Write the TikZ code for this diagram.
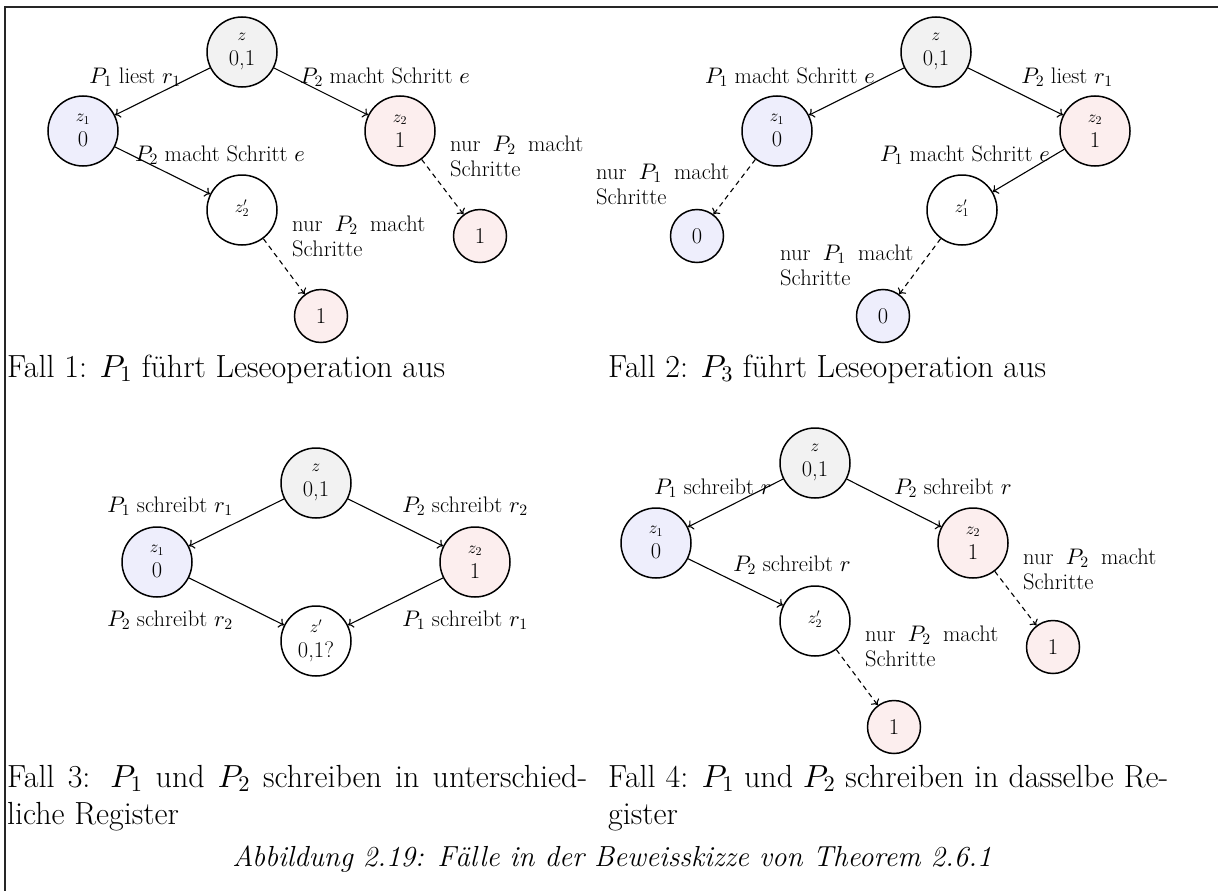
\documentclass[tikz,border=0pt]{standalone}
\usetikzlibrary{arrows.meta}
% scalable Computer Modern math fonts
\DeclareFontShape{OML}{cmm}{m}{it}{<->cmmi10}{}
\DeclareFontShape{OMS}{cmsy}{m}{n}{<->cmsy10}{}
\DeclareFontShape{OT1}{cmr}{m}{n}{<->cmr10}{}
\definecolor{zgray}{RGB}{242,242,242}
\definecolor{zblue}{RGB}{238,238,252}
\definecolor{zred}{RGB}{252,238,238}
\newcommand{\lblfont}{\fontsize{22.5}{25}\selectfont}
\newcommand{\capfont}{\fontsize{32}{38}\selectfont}
\newcommand{\figfont}{\fontsize{29}{36}\selectfont}
\newcommand{\tagfont}{\fontsize{17}{20}\selectfont}
% state name alone, set in the upper half of its circle
\newcommand{\onlytag}[1]{\raisebox{8pt}{\tagfont$#1$}}
\tikzset{
  state/.style={circle, draw, line width=1.5pt, minimum size=70pt, inner sep=0pt, align=center, font=\lblfont},
  leaf/.style={circle, draw, line width=1.5pt, minimum size=53pt, inner sep=0pt, font=\lblfont},
  gz/.style={fill=zgray}, bz/.style={fill=zblue}, rz/.style={fill=zred},
  trans/.style={-{To[length=5pt,width=10pt]}, line width=1.1pt},
  solo/.style={trans, dash pattern=on 5pt off 4pt},
  elabel/.style={font=\lblfont, inner sep=0pt},
  note/.style={font=\lblfont, text width=133pt, align=justify, inner sep=0pt, anchor=base west},
  capline/.style={font=\capfont, inner sep=0pt, anchor=base west},
}
\begin{document}
\begin{tikzpicture}[x=1pt, y=-1pt]
\useasboundingbox (0,0) rectangle (1218,891);
% frame
\draw[line width=1.5pt, black!85] (5,891) -- (5,7) -- (1218,7);

% ---------- Fall 1 ----------
\node[state,gz] (a0) at (242,52) {{\tagfont$z$}\\0,1};
\node[state,bz] (a1) at (83,131) {{\tagfont$z_1$}\\0};
\node[state,rz] (a2) at (400,131) {{\tagfont$z_2$}\\1};
\node[state] (a3) at (242,210) {\onlytag{z_2'}};
\node[leaf,rz] (a4) at (480,236) {1};
\node[leaf,rz] (a5) at (321,316) {1};
\draw[trans] (a0) -- (a1);
\draw[trans] (a0) -- (a2);
\draw[trans] (a1) -- (a3);
\draw[solo] (a2) -- (a4);
\draw[solo] (a3) -- (a5);
\node[elabel] (la1) at (135,77) {$P_1$ liest $r_1$};
\node[elabel] (la2) at (385,77) {$P_2$ macht Schritt $e$};
\node[elabel] (la3) at (220,155) {$P_2$ macht Schritt $e$};
\node[note] (la4) at (450,151) {nur $P_2$ macht Schritte};
\node[note] (la5) at (292,231) {nur $P_2$ macht Schritte};
\node[capline] (ca) at (7,377) {Fall 1: $P_1$ führt Leseoperation aus};

% ---------- Fall 2 ----------
\node[state,gz] (b0) at (936,52) {{\tagfont$z$}\\0,1};
\node[state,bz] (b1) at (777,131) {{\tagfont$z_1$}\\0};
\node[state,rz] (b2) at (1095,131) {{\tagfont$z_2$}\\1};
\node[state] (b3) at (962,210) {\onlytag{z_1'}};
\node[leaf,bz] (b4) at (697,236) {0};
\node[leaf,bz] (b5) at (883,316) {0};
\draw[trans] (b0) -- (b1);
\draw[trans] (b0) -- (b2);
\draw[trans] (b2) -- (b3);
\draw[solo] (b1) -- (b4);
\draw[solo] (b3) -- (b5);
\node[elabel] (lb1) at (790,77) {$P_1$ macht Schritt $e$};
\node[elabel] (lb2) at (1067,77) {$P_2$ liest $r_1$};
\node[elabel] (lb3) at (965,155) {$P_1$ macht Schritt $e$};
\node[note] (lb4) at (596,179) {nur $P_1$ macht Schritte};
\node[note] (lb5) at (780,260) {nur $P_1$ macht Schritte};
\node[capline] (cb) at (608,377) {Fall 2: $P_3$ führt Leseoperation aus};

% ---------- Fall 3 ----------
\node[state,gz] (c0) at (316,483) {{\tagfont$z$}\\0,1};
\node[state,bz] (c1) at (157,562) {{\tagfont$z_1$}\\0};
\node[state,rz] (c2) at (475,562) {{\tagfont$z_2$}\\1};
\node[state] (c3) at (316,641) {{\tagfont$z'$}\\0,1?};
\draw[trans] (c0) -- (c1);
\draw[trans] (c0) -- (c2);
\draw[trans] (c1) -- (c3);
\draw[trans] (c2) -- (c3);
\node[elabel] (lc1) at (170,506) {$P_1$ schreibt $r_1$};
\node[elabel] (lc2) at (465,506) {$P_2$ schreibt $r_2$};
\node[elabel] (lc3) at (170,620) {$P_2$ schreibt $r_2$};
\node[elabel] (lc4) at (465,620) {$P_1$ schreibt $r_1$};
\node[capline] (cc1) at (7,787) {\makebox[580pt][s]{Fall 3: $P_1$ und $P_2$ schreiben in unterschied-}};
\node[capline] (cc2) at (7,824) {liche Register};

% ---------- Fall 4 ----------
\node[state,gz] (d0) at (815,463) {{\tagfont$z$}\\0,1};
\node[state,bz] (d1) at (656,543) {{\tagfont$z_1$}\\0};
\node[state,rz] (d2) at (973,543) {{\tagfont$z_2$}\\1};
\node[state] (d3) at (815,621) {\onlytag{z_2'}};
\node[leaf,rz] (d4) at (1053,647) {1};
\node[leaf,rz] (d5) at (894,727) {1};
\draw[trans] (d0) -- (d1);
\draw[trans] (d0) -- (d2);
\draw[trans] (d1) -- (d3);
\draw[solo] (d2) -- (d4);
\draw[solo] (d3) -- (d5);
\node[elabel] (ld1) at (713,488) {$P_1$ schreibt $r$};
\node[elabel] (ld2) at (953,488) {$P_2$ schreibt $r$};
\node[elabel] (ld3) at (792,565) {$P_2$ schreibt $r$};
\node[note] (ld4) at (1023,564) {nur $P_2$ macht Schritte};
\node[note] (ld5) at (865,641) {nur $P_2$ macht Schritte};
\node[capline] (cd1) at (608,787) {\makebox[560pt][s]{Fall 4: $P_1$ und $P_2$ schreiben in dasselbe Re-}};
\node[capline] (cd2) at (608,824) {gister};

% figure caption
\node[font=\figfont\itshape, inner sep=0pt, anchor=base] (fig) at (612,866) {Abbildung 2.19: Fälle in der Beweisskizze von Theorem 2.6.1};
\end{tikzpicture}
\end{document}
